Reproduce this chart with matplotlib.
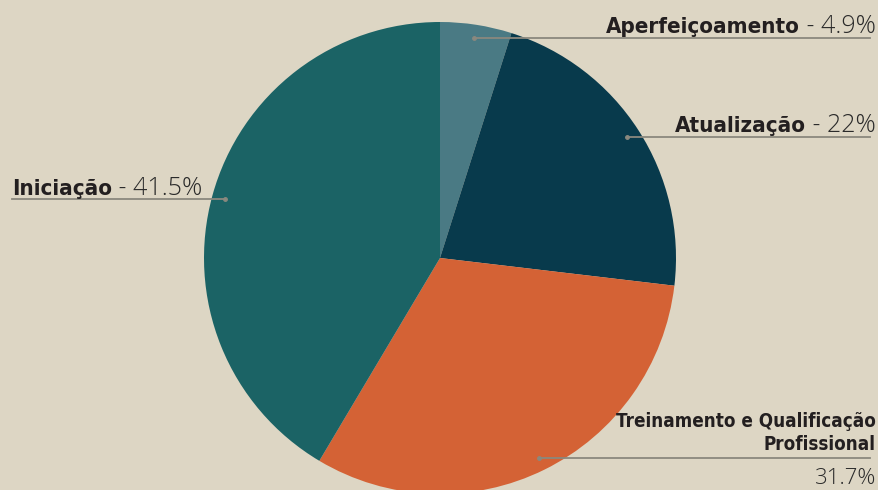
import numpy as np
import matplotlib.pyplot as plt

categorias = ['Aperfeiçoamento', 'Atualização', 'Treinamento e Qualificação\nProfissional', 'Iniciação']
valores = [4.9, 22, 31.7, 41.5]
rotulos = ['4.9%', '22%', '31.7%', '41.5%']
cores = ['#4a7a84', '#083a4c', '#d46235', '#1b6365']
fundo = '#ddd6c4'

W, H = 879, 490
fig = plt.figure(figsize=(W / 100, H / 100), dpi=100, facecolor=fundo)
ax = fig.add_axes([0, 0, 1, 1])

cx, cy, R = 440, 232, 236
ax.pie(valores, colors=cores, startangle=90, counterclock=False,
       center=(cx, cy), radius=R, frame=True,
       wedgeprops=dict(linewidth=0))
ax.set_xlim(0, W)
ax.set_ylim(0, H)
ax.set_aspect('equal')
ax.axis('off')

# pontos das linhas guia
frac = np.cumsum(valores) / np.sum(valores)
meio = frac - np.array(valores) / np.sum(valores) / 2
ang = np.deg2rad(90 - meio * 360)
px = cx + 0.945 * R * np.cos(ang)
py = cy + 0.945 * R * np.sin(ang)

linha = '#8a887e'
negrito = dict(family=['DejaVu Sans'], weight='bold', stretch='condensed', color='#231f20')
leve = dict(family=['Open Sans', 'DejaVu Sans'], weight='light', color='#2a2a2a')

direita = 876
for i in range(3):
    ax.plot([px[i], direita - 6], [py[i], py[i]], color=linha, lw=1.3, zorder=3)
    ax.plot(px[i], py[i], 'o', ms=2.5, color=linha, zorder=4)
ax.plot([12, px[3]], [py[3], py[3]], color=linha, lw=1.3, zorder=3)
ax.plot(px[3], py[3], 'o', ms=2.5, color=linha, zorder=4)

fig.canvas.draw()
r = fig.canvas.get_renderer()

def rotulo_direita(i, tam):
    t = ax.text(direita, py[i] + 5, ' - ' + rotulos[i], ha='right', va='baseline',
                fontsize=18, **leve)
    w = t.get_window_extent(r).width
    ax.text(direita - w, py[i] + 5, categorias[i], ha='right', va='baseline',
            fontsize=tam, **negrito)

rotulo_direita(0, 16)
rotulo_direita(1, 16)

ax.text(direita, py[2] + 8, categorias[2], ha='right', va='baseline',
        fontsize=13.5, linespacing=1.3, multialignment='right', **negrito)
ax.text(direita, py[2] - 26, rotulos[2], ha='right', va='baseline', fontsize=16, **leve)

t = ax.text(12, py[3] + 4, categorias[3], ha='left', va='baseline', fontsize=16, **negrito)
w = t.get_window_extent(r).width
ax.text(12 + w, py[3] + 4, ' - ' + rotulos[3], ha='left', va='baseline', fontsize=18, **leve)

fig.savefig('out.png', dpi=100, facecolor=fundo)
